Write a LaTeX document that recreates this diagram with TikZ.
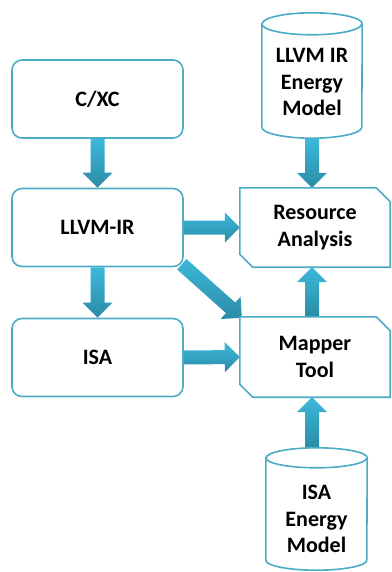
\documentclass[tikz,border=0pt]{standalone}
\usepackage{fontspec}
\setmainfont{Carlito}
\usetikzlibrary{calc}
\definecolor{boxline}{HTML}{4BACC6}
\definecolor{arrlight}{HTML}{3DB8DB}
\definecolor{arrdark}{HTML}{2A8CA6}
\pgfdeclarelayer{bg}
\pgfdeclarelayer{mid}
\pgfsetlayers{bg,mid,main}
\tikzset{
  lbl/.style={font=\fontsize{22}{26.5}\selectfont\bfseries, align=center, text=black, inner sep=0pt},
  rbox/.style={lbl, draw=boxline, line width=1.6pt, fill=white, rounded corners=10pt,
               minimum width=171pt, minimum height=78pt},
  geo/.style={inner sep=0pt, minimum width=#1},
  outline/.style={draw=boxline, line width=1.6pt, fill=white},
  arrowshade/.style={top color=arrlight, bottom color=arrdark, draw=none},
}
\newcommand{\blockarrow}[2]{%
  \coordinate (ba-s) at (#1);
  \coordinate (ba-e) at (#2);
  \coordinate (ba-h) at ($(ba-e)!15pt!(ba-s)$);
  \path[arrowshade] ($(ba-s)!7pt!90:(ba-e)$) -- ($(ba-h)!7pt!-90:(ba-s)$)
     -- ($(ba-h)!15pt!-90:(ba-s)$) -- (ba-e) -- ($(ba-h)!15pt!90:(ba-s)$)
     -- ($(ba-h)!7pt!90:(ba-s)$) -- ($(ba-s)!7pt!-90:(ba-e)$) -- cycle;
}
\newcommand{\cyl}[3]{% node name, x radius, y radius
  \path[outline] ($(#1.north west)+(0,#3)$) -- ($(#1.south west)+(0,-#3)$)
     arc[start angle=180, end angle=0, x radius=#2, y radius=#3]
     -- ($(#1.north east)+(0,#3)$)
     arc[start angle=0, end angle=-180, x radius=#2, y radius=#3] -- cycle;
  \draw[draw=boxline, line width=1.6pt] ($(#1.north west)+(0,#3)$)
     arc[start angle=180, end angle=0, x radius=#2, y radius=#3];
}
\newcommand{\snipbox}[1]{%
  \path[outline] (#1.north west) -- ($(#1.north east)+(-14,0)$) -- ($(#1.north east)+(0,14)$)
     -- (#1.south east) -- ($(#1.south west)+(13,0)$) -- ($(#1.south west)+(0,-13)$) -- cycle;
}
\begin{document}
\begin{tikzpicture}[x=1pt, y=-1pt]
\useasboundingbox (0,0) rectangle (391,572);
% rounded boxes
\node[rbox] (cxc) at (97.5,99) {C/XC};
\node[rbox] (llvm) at (97.5,227.5) {LLVM-IR};
\node[rbox] (isa) at (97.5,357.5) {ISA};
% snipped boxes
\node[lbl, minimum width=150pt, minimum height=79pt] (ra) at (315,227.5) {Resource\\Analysis};
\node[lbl, minimum width=150pt, minimum height=80pt] (mt) at (315,357) {Mapper\\Tool};
% cylinders
\node[geo=100pt, minimum height=125pt] (llvmem) at (312,75.5) {};
\node[lbl] (llvmemtxt) at (312,82) {LLVM IR\\Energy\\Model};
\node[geo=101pt, minimum height=122pt] (isaem) at (316.5,509) {};
\node[lbl] (isaemtxt) at (316.5,519) {ISA\\Energy\\Model};
\begin{pgfonlayer}{mid}
  \snipbox{ra}
  \snipbox{mt}
  \cyl{llvmem}{50}{11}
  \cyl{isaem}{50.5}{10}
\end{pgfonlayer}
\begin{pgfonlayer}{bg}
  \blockarrow{cxc.south}{llvm.north}
  \blockarrow{llvm.south}{isa.north}
  \blockarrow{llvm.east}{ra.west}
  \blockarrow{$(llvm.south east)+(-2,-3)$}{$(mt.north west)+(2,1)$}
  \blockarrow{isa.east}{mt.west}
  \blockarrow{llvmem.south}{llvmem.south |- ra.north}
  \blockarrow{mt.north -| llvmem.south}{ra.south -| llvmem.south}
  \blockarrow{isaem.north -| llvmem.south}{mt.south -| llvmem.south}
\end{pgfonlayer}
\end{tikzpicture}
\end{document}
